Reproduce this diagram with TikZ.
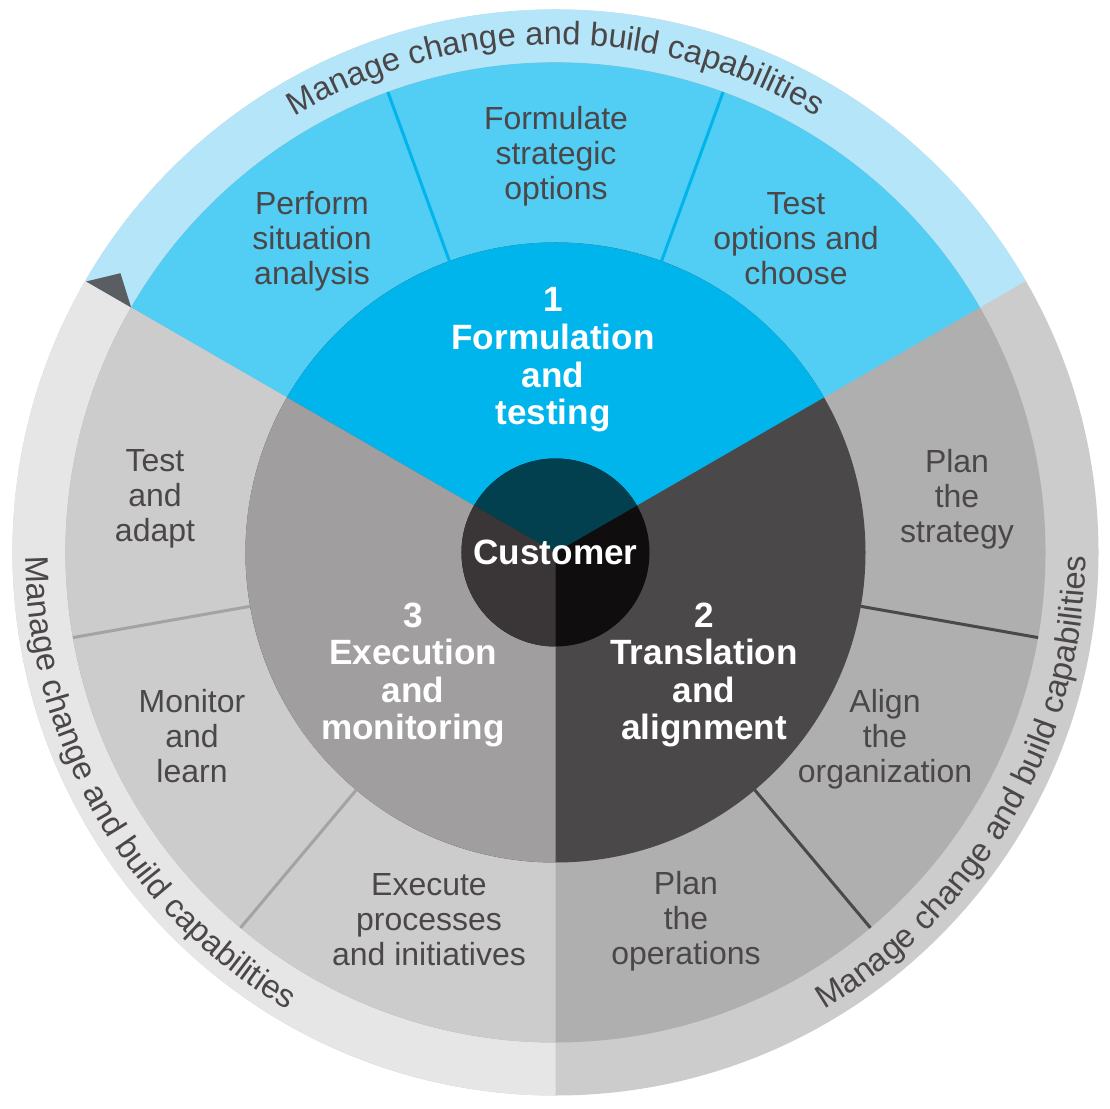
\documentclass[tikz,border=0pt]{standalone}
\usepackage{fontspec}
\setmainfont{Liberation Sans}
\usepackage{tikz}
\usetikzlibrary{decorations.text}
\definecolor{bandBlue}{HTML}{B4E5F8}
\definecolor{midBlue}{HTML}{52CDF3}
\definecolor{coreBlue}{HTML}{00B5EC}
\definecolor{bandLight}{HTML}{E6E6E6}
\definecolor{bandGray}{HTML}{CCCCCC}
\definecolor{midLight}{HTML}{CCCCCC}
\definecolor{midGray}{HTML}{AFAFAF}
\definecolor{coreLight}{HTML}{A09E9F}
\definecolor{coreDark}{HTML}{4A4849}
\definecolor{divLight}{HTML}{A3A3A3}
\definecolor{custTeal}{HTML}{02404F}
\definecolor{custLeft}{HTML}{3A3536}
\definecolor{custRight}{HTML}{0F0D0E}
\definecolor{labelGray}{HTML}{4B4748}
\definecolor{tipGray}{HTML}{5A5E62}
\newcommand\bandfont{\color{labelGray}\fontsize{9.3}{9.3}\selectfont}

\begin{document}
\begin{tikzpicture}[task/.style={align=center,text=labelGray,inner sep=0pt,
        font=\fontsize{9.1}{10}\selectfont},
        phase/.style={align=center,text=white,inner sep=0pt,
        font=\bfseries\fontsize{10}{10.7}\selectfont},
        divider/.style={line width=0.03cm},
        bandtext/.style={decorate,decoration={text along path,text align=center,
        text={|\bandfont|Manage change and build capabilities}}}]
    \useasboundingbox (-5.555,-5.565) rectangle (5.535,5.525);
    \foreach \r/\cb/\cl/\cg in {5.43/bandBlue/bandLight/bandGray,4.90/midBlue/midLight/midGray,
        3.10/coreBlue/coreLight/coreDark,0.94/custTeal/custLeft/custRight}{
        \fill[\cg] (0,0) circle[radius=\r];
        \fill[\cb] (0,0) -- (30:\r) arc[start angle=30,end angle=150,radius=\r] -- cycle;
        \fill[\cl] (0,0) -- (150:\r) arc[start angle=150,end angle=270,radius=\r] -- cycle;
    }
    \foreach \a/\c in {70/coreBlue,110/coreBlue,190/divLight,230/divLight,310/coreDark,350/coreDark}
        \draw[divider,\c] (\a:3.10) -- (\a:4.90);
    \fill[tipGray] (150:5.42) -- (147.3:5.17) -- (150:4.90) -- cycle;
    % curved band labels
    \path[bandtext] (150:5.08) arc[start angle=150,end angle=30,radius=5.08];
    \path[bandtext] (150:5.30) arc[start angle=150,end angle=270,radius=5.30];
    \path[bandtext] (270:5.30) arc[start angle=270,end angle=390,radius=5.30];
    \node[task] (perform) at (-2.435,3.115) {Perform\\situation\\analysis};
    \node[task] (formulate) at (0.005,3.965) {Formulate\\strategic\\options};
    \node[task] (choose) at (2.405,3.135) {Test\\options and\\choose};
    \node[task] (planstrat) at (4.015,0.535) {Plan\\the\\strategy};
    \node[task] (alignorg) at (3.295,-1.865) {Align\\the\\organization};
    \node[task] (planops) at (1.305,-3.685) {Plan\\the\\operations};
    \node[task] (execute) at (-1.265,-3.67) {Execute\\processes\\and initiatives};
    \node[task] (monitor) at (-3.635,-1.835) {Monitor\\and\\learn};
    \node[task] (adapt) at (-4.005,0.535) {Test\\and\\adapt};
    \node[phase] (formulation) at (-0.025,1.925) {1\\Formulation\\and\\testing};
    \node[phase] (translation) at (1.485,-1.225) {2\\Translation\\and\\alignment};
    \node[phase] (execution) at (-1.425,-1.225) {3\\Execution\\and\\monitoring};
    \node[phase] (customer) at (0,0) {Customer};
\end{tikzpicture}
\end{document}
